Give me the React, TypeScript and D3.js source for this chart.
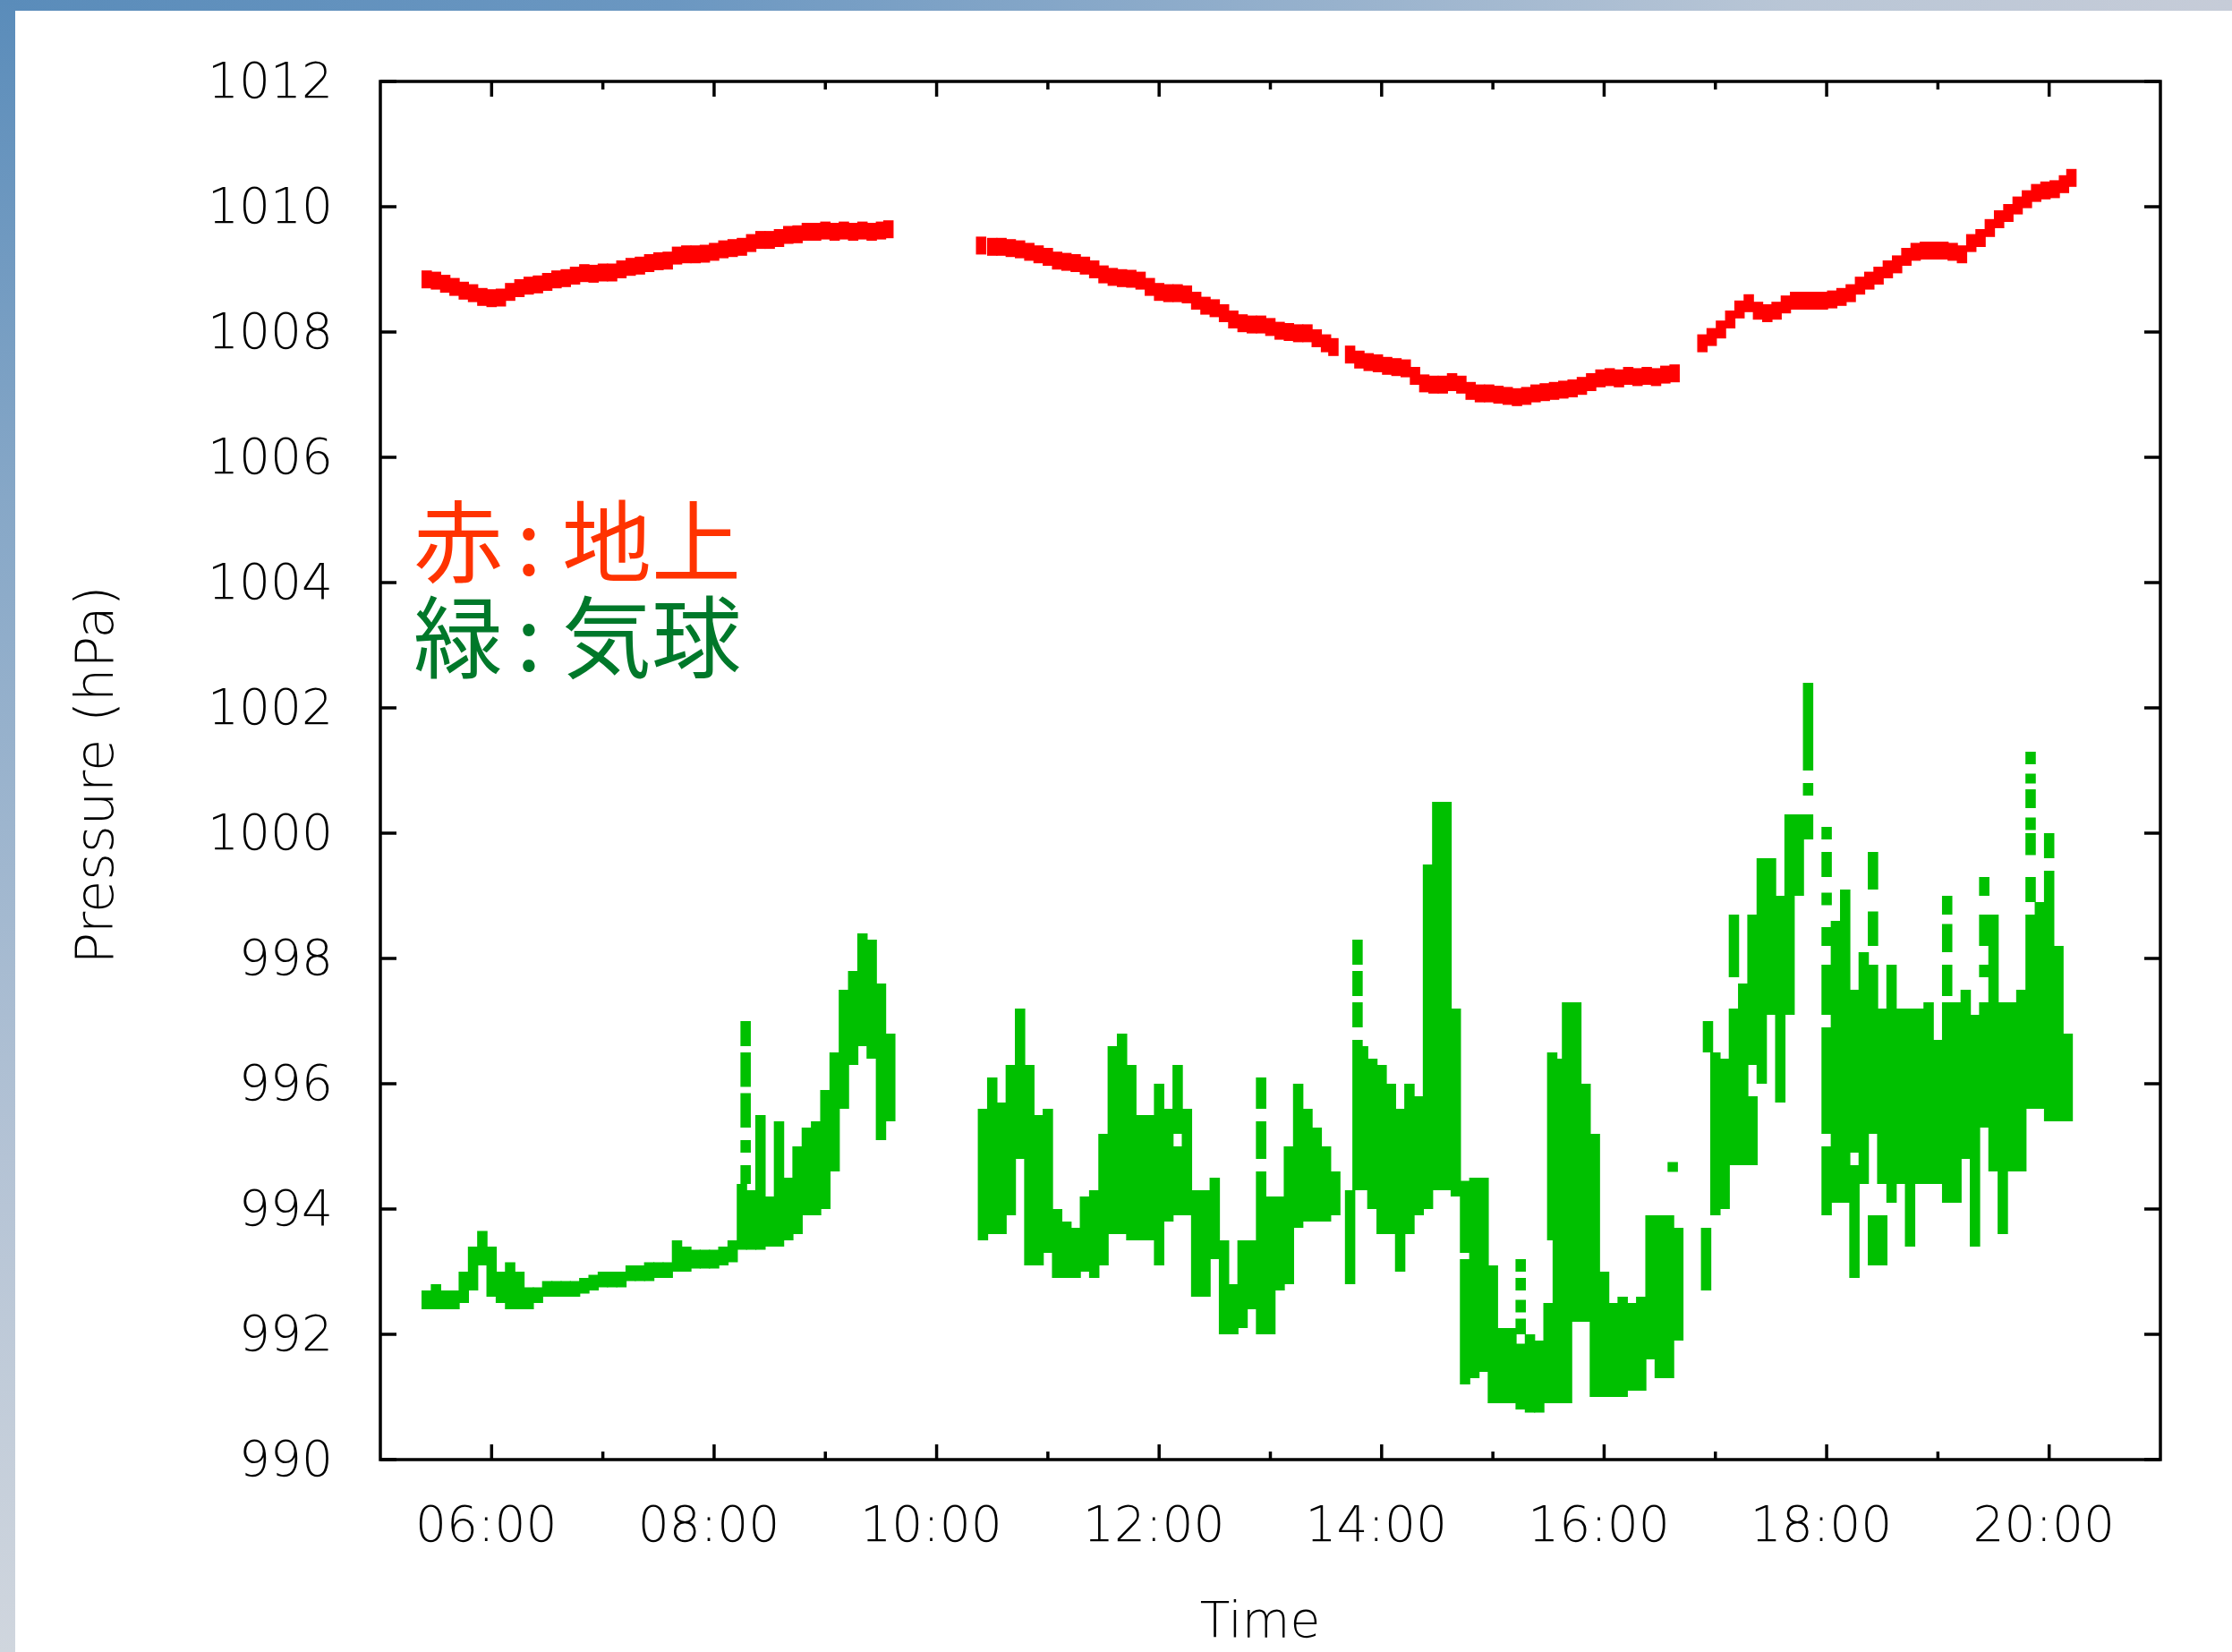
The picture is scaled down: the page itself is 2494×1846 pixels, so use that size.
import * as d3 from "d3";

const W = 2494;
const H = 1846;

// 地上 (red): [time, hPa]
const ground: [string, number][] = [
  ["05:25", 1008.84], ["05:30", 1008.82], ["05:35", 1008.77], ["05:40", 1008.72], ["05:45", 1008.66],
  ["05:50", 1008.62], ["05:55", 1008.56], ["06:00", 1008.54], ["06:05", 1008.55], ["06:10", 1008.64],
  ["06:15", 1008.7], ["06:20", 1008.74], ["06:25", 1008.76], ["06:30", 1008.8], ["06:35", 1008.84],
  ["06:40", 1008.86], ["06:45", 1008.9], ["06:50", 1008.94], ["06:55", 1008.93], ["07:00", 1008.95],
  ["07:05", 1008.95], ["07:10", 1009.0], ["07:15", 1009.04], ["07:20", 1009.06], ["07:25", 1009.1],
  ["07:30", 1009.13], ["07:35", 1009.14], ["07:40", 1009.22], ["07:45", 1009.24], ["07:50", 1009.24],
  ["07:55", 1009.25], ["08:00", 1009.28], ["08:05", 1009.32], ["08:10", 1009.34], ["08:15", 1009.36],
  ["08:20", 1009.42], ["08:25", 1009.47], ["08:30", 1009.47], ["08:35", 1009.5], ["08:40", 1009.55],
  ["08:45", 1009.56], ["08:50", 1009.6], ["08:55", 1009.6], ["09:00", 1009.62], ["09:05", 1009.6],
  ["09:10", 1009.62], ["09:15", 1009.6], ["09:20", 1009.62], ["09:25", 1009.6], ["09:30", 1009.62],
  ["09:34", 1009.64],
  ["10:24", 1009.38], ["10:30", 1009.36], ["10:35", 1009.36], ["10:40", 1009.34], ["10:45", 1009.32],
  ["10:50", 1009.28], ["10:55", 1009.24], ["11:00", 1009.2], ["11:05", 1009.14], ["11:10", 1009.12],
  ["11:15", 1009.1], ["11:20", 1009.06], ["11:25", 1009.0], ["11:30", 1008.92], ["11:35", 1008.88],
  ["11:40", 1008.86], ["11:45", 1008.85], ["11:50", 1008.82], ["11:55", 1008.72], ["12:00", 1008.64],
  ["12:05", 1008.62], ["12:10", 1008.62], ["12:15", 1008.6], ["12:20", 1008.5], ["12:25", 1008.42],
  ["12:30", 1008.38], ["12:35", 1008.3], ["12:40", 1008.2], ["12:45", 1008.14], ["12:50", 1008.12],
  ["12:55", 1008.12], ["13:00", 1008.08], ["13:05", 1008.02], ["13:10", 1008.0], ["13:15", 1007.98],
  ["13:20", 1007.98], ["13:25", 1007.9], ["13:30", 1007.82], ["13:34", 1007.76],
  ["13:43", 1007.64], ["13:48", 1007.56], ["13:53", 1007.52], ["13:58", 1007.5], ["14:03", 1007.46],
  ["14:08", 1007.44], ["14:13", 1007.42], ["14:18", 1007.3], ["14:23", 1007.18], ["14:28", 1007.16],
  ["14:33", 1007.16], ["14:38", 1007.2], ["14:43", 1007.16], ["14:48", 1007.06], ["14:53", 1007.02],
  ["14:58", 1007.02], ["15:03", 1007.0], ["15:08", 1006.98], ["15:13", 1006.96], ["15:18", 1006.98],
  ["15:23", 1007.02], ["15:28", 1007.04], ["15:33", 1007.06], ["15:38", 1007.08], ["15:43", 1007.1],
  ["15:48", 1007.14], ["15:53", 1007.2], ["15:58", 1007.26], ["16:03", 1007.28], ["16:08", 1007.26],
  ["16:13", 1007.3], ["16:18", 1007.28], ["16:23", 1007.3], ["16:28", 1007.28], ["16:33", 1007.32],
  ["16:38", 1007.34],
  ["16:53", 1007.82], ["16:58", 1007.92], ["17:03", 1008.04], ["17:08", 1008.2], ["17:13", 1008.36],
  ["17:18", 1008.46], ["17:23", 1008.34], ["17:28", 1008.3], ["17:33", 1008.34], ["17:38", 1008.44],
  ["17:43", 1008.5], ["17:48", 1008.5], ["17:53", 1008.5], ["17:58", 1008.5], ["18:03", 1008.52],
  ["18:08", 1008.56], ["18:13", 1008.62], ["18:18", 1008.74], ["18:23", 1008.82], ["18:28", 1008.9],
  ["18:33", 1009.0], ["18:38", 1009.08], ["18:43", 1009.2], ["18:48", 1009.28], ["18:53", 1009.3],
  ["18:58", 1009.3], ["19:03", 1009.3], ["19:08", 1009.28], ["19:13", 1009.24], ["19:18", 1009.42],
  ["19:23", 1009.5], ["19:28", 1009.66], ["19:33", 1009.8], ["19:38", 1009.9], ["19:43", 1010.02],
  ["19:48", 1010.12], ["19:53", 1010.22], ["19:58", 1010.26], ["20:03", 1010.28], ["20:08", 1010.36],
  ["20:12", 1010.46],
];

// 気球 (green): [time, lowest hPa, highest hPa] of each run of points in a 5-minute slot
const balloon: [string, number, number][] = [
  ["05:25", 992.4, 992.7], ["05:30", 992.4, 992.8], ["05:35", 992.4, 992.7], ["05:40", 992.4, 992.7],
  ["05:45", 992.5, 993.0], ["05:50", 992.7, 993.4], ["05:55", 993.1, 993.65], ["06:00", 992.6, 993.4],
  ["06:05", 992.5, 993.0], ["06:10", 992.4, 993.15], ["06:15", 992.4, 993.0], ["06:20", 992.4, 992.75],
  ["06:25", 992.5, 992.75], ["06:30", 992.6, 992.85], ["06:35", 992.6, 992.85], ["06:40", 992.6, 992.85],
  ["06:45", 992.6, 992.85], ["06:50", 992.65, 992.9], ["06:55", 992.7, 992.95], ["07:00", 992.75, 993.0],
  ["07:05", 992.75, 993.0], ["07:10", 992.75, 993.0], ["07:15", 992.85, 993.1], ["07:20", 992.85, 993.1],
  ["07:25", 992.85, 993.15], ["07:30", 992.9, 993.15], ["07:35", 992.9, 993.15], ["07:40", 993.0, 993.5],
  ["07:45", 993.0, 993.4], ["07:50", 993.05, 993.35], ["07:55", 993.05, 993.35], ["08:00", 993.05, 993.35],
  ["08:05", 993.1, 993.4], ["08:10", 993.15, 993.5], ["08:15", 993.35, 994.4],
  ["08:17", 994.4, 994.7], ["08:17", 994.9, 995.1], ["08:17", 995.3, 995.85], ["08:17", 995.95, 996.5],
  ["08:17", 996.6, 997.0],
  ["08:20", 993.35, 994.3], ["08:25", 993.35, 995.5], ["08:30", 993.4, 994.2], ["08:35", 993.4, 995.4],
  ["08:40", 993.5, 994.5], ["08:45", 993.6, 995.0], ["08:50", 993.9, 995.3], ["08:55", 993.9, 995.4],
  ["09:00", 994.0, 995.9], ["09:05", 994.6, 996.5], ["09:10", 995.6, 997.5], ["09:15", 996.3, 997.8],
  ["09:20", 996.6, 998.4], ["09:25", 996.4, 998.3], ["09:30", 995.1, 997.6], ["09:35", 995.4, 996.8],

  ["10:25", 993.5, 995.6], ["10:30", 993.6, 996.1], ["10:35", 993.6, 995.7], ["10:40", 993.9, 996.3],
  ["10:45", 994.8, 997.2], ["10:50", 993.1, 996.3], ["10:55", 993.1, 995.5], ["11:00", 993.3, 995.6],
  ["11:05", 992.9, 994.0], ["11:10", 992.9, 993.8], ["11:15", 992.9, 993.7], ["11:20", 993.0, 994.2],
  ["11:25", 992.9, 994.3], ["11:30", 993.1, 995.2], ["11:35", 993.6, 996.6], ["11:40", 993.6, 996.8],
  ["11:45", 993.5, 996.3], ["11:50", 993.5, 995.5], ["11:55", 993.5, 995.5], ["12:00", 993.1, 996.0],
  ["12:05", 993.8, 995.6], ["12:10", 993.9, 995.0], ["12:10", 995.2, 996.3], ["12:15", 993.9, 995.6],
  ["12:20", 992.6, 994.3], ["12:25", 992.6, 994.3], ["12:30", 993.2, 994.5], ["12:35", 992.0, 993.5],
  ["12:40", 992.0, 992.8], ["12:45", 992.1, 993.5], ["12:50", 992.4, 993.5],
  ["12:55", 992.0, 994.6], ["12:55", 994.8, 995.4], ["12:55", 995.6, 996.1],
  ["13:00", 992.0, 994.2], ["13:05", 992.7, 994.2], ["13:10", 992.8, 995.0], ["13:15", 993.7, 996.0],
  ["13:20", 993.8, 995.6], ["13:25", 993.8, 995.3], ["13:30", 993.8, 995.0], ["13:35", 993.9, 994.6],

  ["13:43", 992.8, 994.3], ["13:47", 994.3, 996.7], ["13:47", 996.9, 997.3], ["13:47", 997.4, 997.8],
  ["13:47", 997.9, 998.3], ["13:50", 994.3, 996.6], ["13:55", 994.0, 996.4],
  ["14:00", 993.6, 996.3], ["14:05", 993.6, 996.0], ["14:10", 993.0, 995.6], ["14:15", 993.6, 996.0],
  ["14:20", 993.9, 995.8], ["14:25", 994.0, 999.5], ["14:30", 994.3, 1000.5], ["14:35", 994.3, 1000.5],
  ["14:40", 994.2, 997.2], ["14:45", 991.2, 993.2], ["14:45", 993.3, 994.45], ["14:50", 991.3, 994.5],
  ["14:55", 991.4, 994.5], ["15:00", 990.9, 993.1], ["15:05", 990.9, 992.1], ["15:10", 990.9, 992.1],
  ["15:15", 990.8, 991.85], ["15:15", 992.0, 992.25], ["15:15", 992.35, 992.55], ["15:15", 992.7, 992.9],
  ["15:15", 993.0, 993.2],
  ["15:20", 990.75, 992.0], ["15:25", 990.75, 991.9], ["15:30", 990.9, 992.5], ["15:32", 993.5, 996.5],
  ["15:35", 990.9, 996.4], ["15:40", 990.9, 997.3], ["15:45", 992.2, 997.3], ["15:50", 992.2, 996.0],
  ["15:55", 991.0, 995.2],
  ["16:00", 991.0, 993.0], ["16:05", 991.0, 992.5], ["16:10", 991.0, 992.6], ["16:15", 991.1, 992.5],
  ["16:20", 991.1, 992.6], ["16:25", 991.6, 993.9], ["16:30", 991.3, 993.9], ["16:35", 991.3, 993.9],
  ["16:37", 994.6, 994.75], ["16:40", 991.9, 993.7],

  ["16:55", 992.7, 993.7], ["16:56", 996.5, 997.0], ["17:00", 993.9, 996.5], ["17:05", 994.0, 996.4],
  ["17:10", 994.7, 997.2], ["17:10", 997.7, 998.7], ["17:15", 994.7, 997.6], ["17:20", 994.7, 995.8],
  ["17:20", 996.3, 998.7], ["17:25", 996.0, 999.6], ["17:30", 997.1, 999.6], ["17:35", 995.7, 999.0],
  ["17:40", 997.1, 1000.3], ["17:45", 999.0, 1000.3],
  ["17:50", 999.9, 1000.3], ["17:50", 1000.6, 1000.8], ["17:50", 1001.0, 1002.4],
  ["18:00", 993.9, 995.0], ["18:00", 995.2, 996.9], ["18:00", 997.1, 997.9], ["18:00", 998.2, 998.5],
  ["18:00", 998.85, 999.05], ["18:00", 999.3, 999.7], ["18:00", 999.9, 1000.1],
  ["18:05", 994.1, 998.6], ["18:10", 994.1, 999.1], ["18:15", 992.9, 994.7], ["18:15", 994.9, 997.5],
  ["18:20", 994.4, 998.1],
  ["18:25", 993.1, 993.9], ["18:25", 995.2, 997.9], ["18:25", 998.2, 998.75], ["18:25", 999.1, 999.7],
  ["18:30", 993.1, 993.9], ["18:30", 994.4, 997.2], ["18:35", 994.1, 997.9], ["18:40", 994.4, 997.2],
  ["18:45", 993.4, 997.2], ["18:50", 994.4, 997.2], ["18:55", 994.4, 997.3], ["19:00", 994.4, 996.7],
  ["19:05", 994.1, 997.3], ["19:05", 997.4, 997.9], ["19:05", 998.1, 998.55], ["19:05", 998.7, 999.0],
  ["19:10", 994.1, 997.3], ["19:15", 994.8, 997.5], ["19:20", 993.4, 997.1],
  ["19:25", 995.3, 997.3], ["19:25", 997.7, 997.9], ["19:25", 998.2, 998.7], ["19:25", 999.0, 999.3],
  ["19:30", 994.6, 998.7], ["19:35", 993.6, 997.3], ["19:40", 994.6, 997.3], ["19:45", 994.6, 997.5],
  ["19:50", 995.6, 998.7], ["19:50", 998.9, 999.3], ["19:50", 999.65, 1000.0], ["19:50", 1000.05, 1000.25],
  ["19:50", 1000.4, 1000.7], ["19:50", 1000.8, 1000.95], ["19:50", 1001.1, 1001.3],
  ["19:55", 995.6, 998.9], ["20:00", 995.4, 999.4], ["20:00", 999.6, 1000.0], ["20:05", 995.4, 998.2],
  ["20:10", 995.4, 996.8],
];

const yTicks = [990, 992, 994, 996, 998, 1000, 1002, 1004, 1006, 1008, 1010, 1012];
const xMajor = ["06:00", "08:00", "10:00", "12:00", "14:00", "16:00", "18:00", "20:00"];
const xMinor = ["07:00", "09:00", "11:00", "13:00", "15:00", "17:00", "19:00"];
const timeRange = ["05:00", "21:00"];

const legend = [
  { key: "赤", name: "地上", color: "#ff3300" },
  { key: "緑", name: "気球", color: "#00782a" },
];

const RED = "#ff0000";
const GREEN = "#00c000";
const FONT = "'DejaVu Sans', sans-serif";

export default function App() {
  const parse = d3.timeParse("%H:%M");
  const left = 425, right = 2414, top = 91, bottom = 1631;

  const x = d3
    .scaleTime()
    .domain(timeRange.map((t) => parse(t) as Date))
    .range([left, right]);
  const y = d3.scaleLinear().domain([990, 1012]).range([bottom, top]);

  const slot = x(parse("05:05") as Date) - x(parse("05:00") as Date) + 1.2;
  const tx = (t: string) => x(parse(t) as Date);

  return (
    <svg
      width={W}
      height={H}
      style={{ position: "absolute", left: 0, top: 0, background: "#fff" }}
    >
      <defs>
        <linearGradient id="topband" x1="0" x2="1" y1="0" y2="0">
          <stop offset="0" stopColor="#5a8cba" />
          <stop offset="0.3" stopColor="#6b97c1" />
          <stop offset="0.6" stopColor="#98b2cd" />
          <stop offset="0.8" stopColor="#b9c6d6" />
          <stop offset="1" stopColor="#c6ccd8" />
        </linearGradient>
        <linearGradient id="leftband" x1="0" x2="0" y1="0" y2="1">
          <stop offset="0" stopColor="#5a8cba" />
          <stop offset="0.3" stopColor="#86a7c7" />
          <stop offset="0.7" stopColor="#b4c3d5" />
          <stop offset="1" stopColor="#d0d6de" />
        </linearGradient>
      </defs>
      <rect x={0} y={0} width={W} height={12} fill="url(#topband)" />
      <rect x={0} y={0} width={17} height={H} fill="url(#leftband)" />

      {/* balloon points */}
      <g fill={GREEN}>
        {balloon.map(([t, lo, hi], i) => (
          <rect
            key={i}
            x={tx(t) - slot / 2}
            y={y(hi)}
            width={slot}
            height={Math.max(11, y(lo) - y(hi))}
          />
        ))}
      </g>

      {/* ground points */}
      <g fill={RED}>
        {ground.map(([t, v], i) => (
          <rect key={i} x={tx(t) - slot / 2} y={y(v) - 10} width={slot} height={20} />
        ))}
      </g>

      {/* frame and ticks */}
      <g stroke="#000" strokeWidth={3.5} fill="none">
        <rect x={left} y={top} width={right - left} height={bottom - top} />
        {yTicks.map((v) => (
          <g key={v}>
            <line x1={left} x2={left + 18} y1={y(v)} y2={y(v)} />
            <line x1={right} x2={right - 18} y1={y(v)} y2={y(v)} />
          </g>
        ))}
        {xMajor.map((t) => (
          <g key={t}>
            <line x1={tx(t)} x2={tx(t)} y1={bottom} y2={bottom - 17} />
            <line x1={tx(t)} x2={tx(t)} y1={top} y2={top + 17} />
          </g>
        ))}
        {xMinor.map((t) => (
          <g key={t}>
            <line x1={tx(t)} x2={tx(t)} y1={bottom} y2={bottom - 9} />
            <line x1={tx(t)} x2={tx(t)} y1={top} y2={top + 9} />
          </g>
        ))}
      </g>

      <g fontFamily={FONT} fontWeight={200} fontSize={55} fill="#000">
        {yTicks.map((v) => (
          <text key={v} x={372} y={y(v) + 18} textAnchor="end">
            {v}
          </text>
        ))}
        {xMajor.map((t) => (
          <text key={t} x={tx(t) - 6} y={1722} textAnchor="middle">
            {t}
          </text>
        ))}
        <text x={1408} y={1829} textAnchor="middle">
          Time
        </text>
        <text
          transform={`translate(126, 866) rotate(-90)`}
          textAnchor="middle"
          fontSize={59}
        >
          Pressure (hPa)
        </text>
      </g>

      <g fontFamily="'Noto Sans CJK JP', sans-serif" fontSize={100}>
        {legend.map((d, i) => (
          <text key={d.key} y={643 + i * 107} fill={d.color}>
            <tspan x={462}>{d.key}</tspan>
            <tspan x={577}>:</tspan>
            <tspan x={628}>{d.name}</tspan>
          </text>
        ))}
      </g>
    </svg>
  );
}
